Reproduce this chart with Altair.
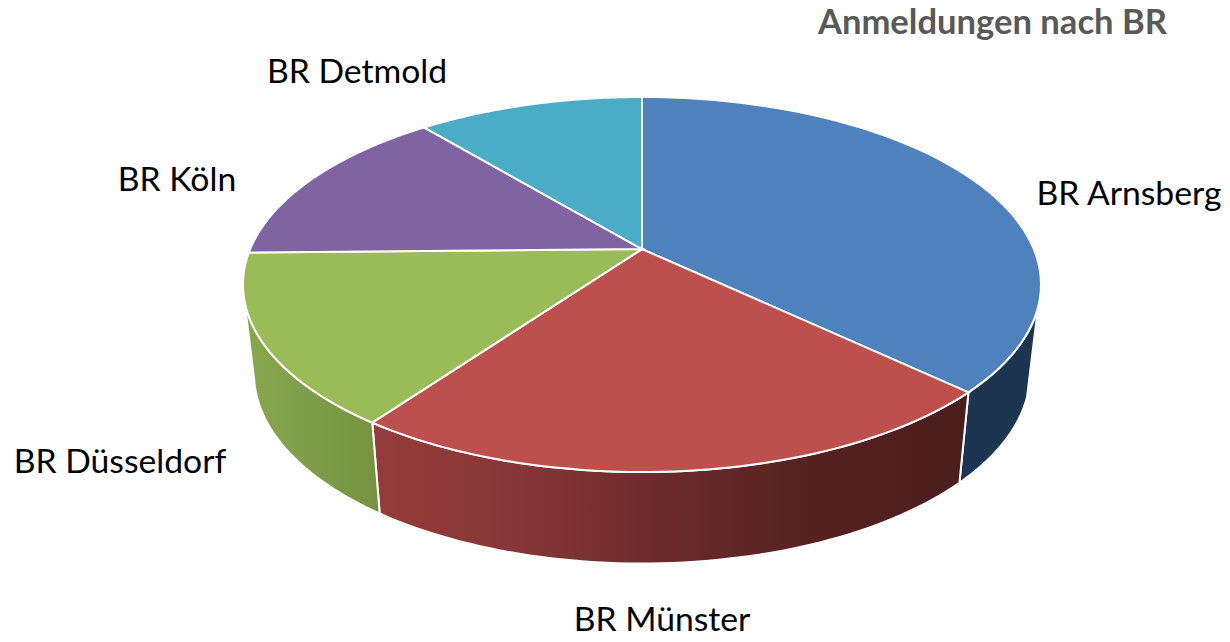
import math
import altair as alt
import pandas as pd

categories = ["BR Arnsberg", "BR Münster", "BR Düsseldorf", "BR Köln", "BR Detmold"]
shares = [37.1, 22.8, 14.8, 14.3, 11.0]
top_colors = ["#4F81BD", "#BD4F4D", "#9BBB59", "#8064A2", "#4BACC6"]
label_x = [1129, 662, 120, 177, 357]
label_y = [195, 621, 463, 181, 73]

W, H = 1214, 626
CX, CY, RX, RY = 642, 284.5, 399, 187.5   # upper rim
LCY, LRX, LRY = 373.5, 388, 190           # lower rim
K = 0.189                                 # perspective of the pie


def true_to_rim(theta):
    """Pie angle (deg, clockwise from top) to parameter on the drawn ellipse."""
    s, c = math.sin(math.radians(theta)), math.cos(math.radians(theta))
    d = 1 + K * c
    return math.atan2(math.sqrt(1 - K * K) * s / d, (c + K) / d)


def upper(t):
    return CX + RX * math.sin(t), CY - RY * math.cos(t)


def lower(t):
    return CX + LRX * math.sin(t), LCY - LRY * math.cos(t)


bounds = [0.0]
for v in shares:
    bounds.append(bounds[-1] + v / sum(shares) * 360)


def arc(fn, a, b, n=60):
    a, b = math.radians(a), math.radians(b)
    return [fn(a + (b - a) * i / n) for i in range(n + 1)]


def poly(points):
    return pd.DataFrame({"x": [p[0] for p in points], "y": [p[1] for p in points],
                         "i": list(range(len(points)))})


xs = alt.Scale(domain=[8, 8 + W], nice=False, zero=False)
ys = alt.Scale(domain=[8 + H, 8], nice=False, zero=False)


def shape(points, fill, width=2):
    return alt.Chart(poly(points)).mark_line(
        interpolate="linear-closed", fill=fill, stroke="white", strokeWidth=width, clip=False
    ).encode(
        x=alt.X("x:Q", scale=xs, axis=None),
        y=alt.Y("y:Q", scale=ys, axis=None),
        order=alt.Order("i:Q"),
    )


def grad(*stops):
    return alt.Gradient(
        gradient="linear", x1=0, x2=1, y1=0, y2=0,
        stops=[alt.GradientStop(offset=o, color=c) for o, c in stops],
    )


layers = []


def rim_deg(theta):
    return math.degrees(true_to_rim(theta)) % 360


b = [rim_deg(v) if 0 < v < 360 else v for v in bounds]
walls = [
    (97, b[1], "#1D3550"),
    (b[1], b[2], grad((0, "#943C3A"), (0.25, "#863637"), (0.5, "#6A2A2A"), (0.75, "#552121"), (1, "#4A1D1C"))),
    (b[2], 268, grad((0, "#8AA850"), (0.5, "#7F9D49"), (1, "#769240"))),
]
for a0, a1, fill in walls:
    pts = arc(upper, a0, a1) + arc(lower, a0, a1)[::-1]
    layers.append(shape(pts, fill))

apex = (CX, CY - RY * K)
for i in range(len(shares)):
    pts = [apex] + arc(upper, b[i], b[i + 1])
    layers.append(shape(pts, top_colors[i]))

for name, lx, ly in zip(categories, label_x, label_y):
    layers.append(
        alt.Chart(pd.DataFrame({"t": [name]})).mark_text(
            font="Lato", fontSize=33.7, color="#000000", align="center", baseline="middle"
        ).encode(x=alt.value(lx - 8), y=alt.value(ly - 8), text="t:N")
    )

layers.append(
    alt.Chart(pd.DataFrame({"t": ["Anmeldungen nach BR"]})).mark_text(
        font="Lato", fontSize=34.6, fontWeight="bold", color="#595959", align="right", baseline="middle"
    ).encode(x=alt.value(1167 - 8), y=alt.value(24 - 8), text="t:N")
)

chart = alt.layer(*layers).properties(
    width=W, height=H, padding=0, autosize=alt.AutoSizeParams(type="none")
).configure_view(stroke=None)

chart.save("out.html", embed_options={"renderer": "svg", "actions": False})
